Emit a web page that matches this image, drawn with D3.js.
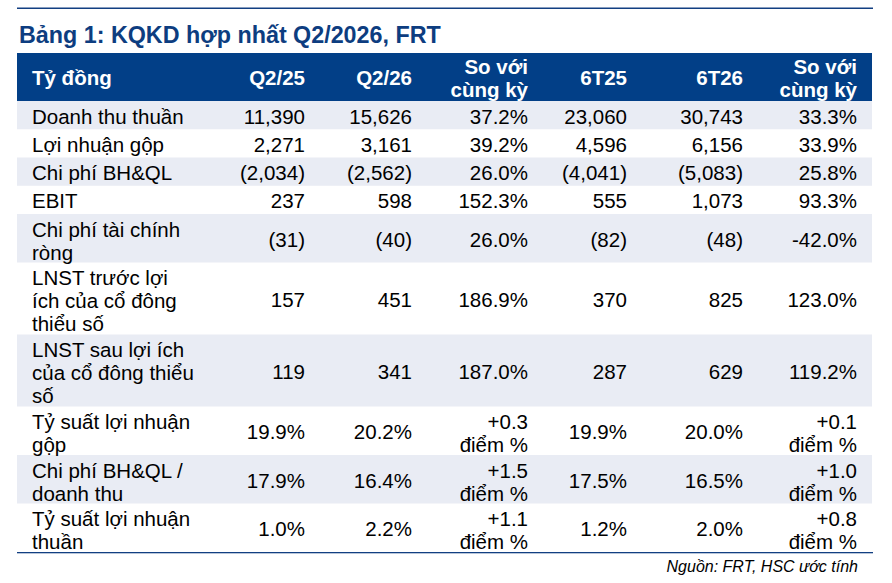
<!DOCTYPE html>
<html>
<head>
<meta charset="utf-8">
<script src="https://cdn.jsdelivr.net/npm/d3@7"></script>
<style>
  body { margin: 0; background: #fff; }
  svg { display: block; font-family: "Liberation Sans", Arial, sans-serif; }
</style>
</head>
<body>
<script>
// Table content
const title = "Bảng 1: KQKD hợp nhất Q2/2026, FRT";
const source = "Nguồn: FRT, HSC ước tính";
const headers = ["Tỷ đồng", "Q2/25", "Q2/26", "So với\ncùng kỳ", "6T25", "6T26", "So với\ncùng kỳ"];
const labels = [
  "Doanh thu thuần",
  "Lợi nhuận gộp",
  "Chi phí BH&QL",
  "EBIT",
  "Chi phí tài chính\nròng",
  "LNST trước lợi\ních của cổ đông\nthiểu số",
  "LNST sau lợi ích\ncủa cổ đông thiểu\nsố",
  "Tỷ suất lợi nhuận\ngộp",
  "Chi phí BH&QL /\ndoanh thu",
  "Tỷ suất lợi nhuận\nthuần"
];
// first 7 rows are amounts (tỷ đồng), last 3 are ratios (%)
const rowKind = ["amt", "amt", "amt", "amt", "amt", "amt", "amt", "ratio", "ratio", "ratio"];
const q2_25 = [11390, 2271, -2034, 237, -31, 157, 119, 19.9, 17.9, 1.0];
const q2_26 = [15626, 3161, -2562, 598, -40, 451, 341, 20.2, 16.4, 2.2];
const yoyQ2 = [37.2, 39.2, 26.0, 152.3, 26.0, 186.9, 187.0, 0.3, 1.5, 1.1];
const h1_25 = [23060, 4596, -4041, 555, -82, 370, 287, 19.9, 17.5, 1.2];
const h1_26 = [30743, 6156, -5083, 1073, -48, 825, 629, 20.0, 16.5, 2.0];
const yoyH1 = [33.3, 33.9, 25.8, 93.3, -42.0, 123.0, 119.2, 0.1, 1.0, 0.8];

const W = 892, H = 583;
const left = 17, right = 872;
const headTop = 53, headH = 48;
const lineH = 23;
const fontSize = 20.5;
const rowHeights = [0, 28.25, 48.5, 72];
const blue = "#023f87", shade = "#e9ecf4";

const svg = d3.select("body").append("svg")
    .attr("width", W)
    .attr("height", H);

// column right edges (label column is left aligned)
const colKeys = ["label", "q2_25", "q2_26", "yoyQ2", "h1_25", "h1_26", "yoyH1"];
const colX = d3.scaleOrdinal()
    .domain(colKeys)
    .range([32, 305, 412, 528, 627, 743, 857]);

// plain hyphen for negatives, like the source sheet
const loc = d3.formatLocale({ decimal: ".", thousands: ",", grouping: [3], currency: ["", ""], minus: "-" });
const num = loc.format(",");
const amt = v => v < 0 ? "(" + num(-v) + ")" : num(v);
const pct = v => loc.format(".1f")(v) + "%";
const pts = v => loc.format("+.1f")(v) + "\nđiểm %";

const rows = labels.map((label, i) => {
  const ratio = rowKind[i] === "ratio";
  const f = ratio ? pct : amt;
  return {
    label: label,
    cells: {
      q2_25: f(q2_25[i]),
      q2_26: f(q2_26[i]),
      yoyQ2: ratio ? pts(yoyQ2[i]) : pct(yoyQ2[i]),
      h1_25: f(h1_25[i]),
      h1_26: f(h1_26[i]),
      yoyH1: ratio ? pts(yoyH1[i]) : pct(yoyH1[i])
    }
  };
});

// stack rows
let y0 = headTop + headH;
rows.forEach(r => {
  const n = d3.max([r.label, ...Object.values(r.cells)], s => s.split("\n").length);
  r.lines = n;
  r.y = y0;
  r.h = rowHeights[n];
  y0 += r.h;
});
const tableBottom = y0;

// top rule + title
svg.append("rect")
    .attr("x", left).attr("y", 7.5)
    .attr("width", right - left + 1).attr("height", 1.5)
    .attr("fill", "#123f82");
svg.append("text")
    .attr("x", 19).attr("y", 43)
    .attr("font-size", 23.3)
    .attr("font-weight", "bold")
    .attr("fill", "#0d3d80")
    .text(title);

// header band
svg.append("rect")
    .attr("x", left).attr("y", headTop)
    .attr("width", right - left).attr("height", headH)
    .attr("fill", blue);

function multiText(g, str, x, firstBase, anchor) {
  const t = g.append("text")
      .attr("x", x)
      .attr("text-anchor", anchor);
  str.split("\n").forEach((s, k) => {
    t.append("tspan")
        .attr("x", x)
        .attr("y", firstBase + k * lineH)
        .text(s);
  });
  return t;
}

const head = svg.append("g")
    .attr("fill", "#fff")
    .attr("font-size", fontSize)
    .attr("font-weight", "bold");
headers.forEach((h, j) => {
  const n = h.split("\n").length;
  const base = headTop + headH / 2 + 8 - (n - 1) * lineH / 2;
  multiText(head, h, colX(colKeys[j]), base, j === 0 ? "start" : "end");
});

// body rows
const body = svg.append("g")
    .attr("font-size", fontSize)
    .attr("fill", "#000");

body.selectAll("rect.band")
  .data(rows.filter((r, i) => i % 2 === 0))
  .enter().append("rect")
    .attr("class", "band")
    .attr("x", left)
    .attr("y", d => d.y)
    .attr("width", right - left)
    .attr("height", d => d.h)
    .attr("fill", shade);

rows.forEach(r => {
  const centerBase = r.y + r.h / 2 + 8.5;
  const topBase = r.lines === 1 ? centerBase : r.y + 22.5;
  const texts = [["label", r.label], ...Object.entries(r.cells)];
  texts.forEach(([key, s]) => {
    const n = s.split("\n").length;
    const base = n === r.lines ? topBase : centerBase - (n - 1) * lineH / 2;
    multiText(body, s, colX(key), base, key === "label" ? "start" : "end");
  });
});

// bottom rule + source
svg.append("rect")
    .attr("x", left).attr("y", tableBottom)
    .attr("width", right - left + 1).attr("height", 1.3)
    .attr("fill", "#123f82");
svg.append("text")
    .attr("x", 858).attr("y", tableBottom + 20)
    .attr("text-anchor", "end")
    .attr("font-size", 16)
    .attr("font-style", "italic")
    .attr("fill", "#000")
    .text(source);
</script>
</body>
</html>
